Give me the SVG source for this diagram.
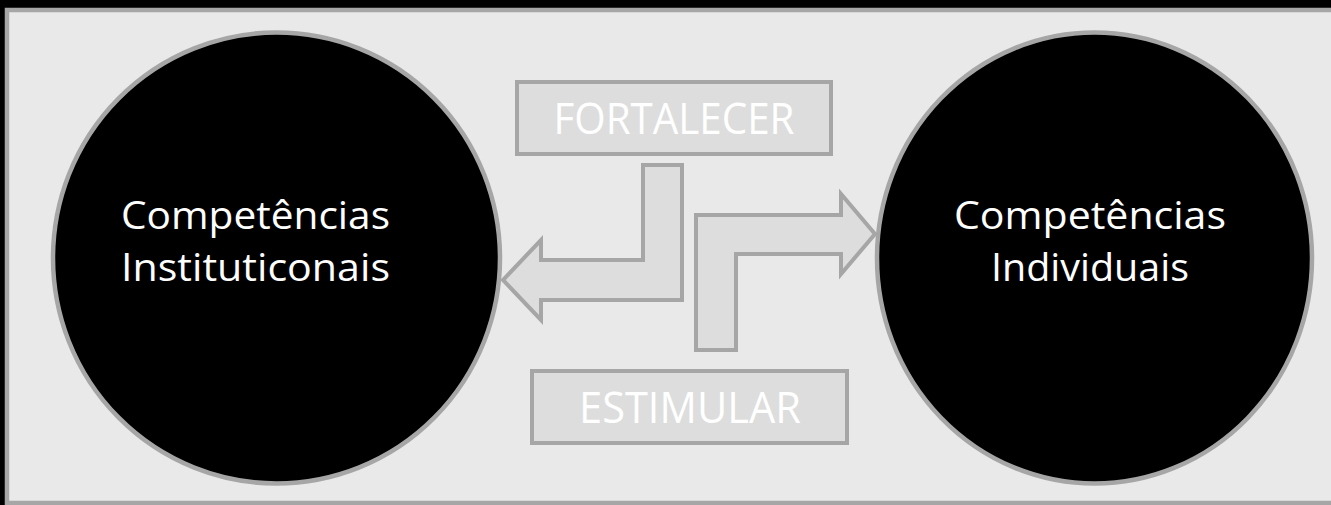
<svg xmlns="http://www.w3.org/2000/svg" width="1331" height="505" viewBox="0 0 1331 505">
<style>
.circ{fill:#000;stroke:#a6a6a6;stroke-width:4.5}
.box{fill:#dddddd;stroke:#a6a6a6;stroke-width:4}
.arr{fill:#dddddd;stroke:#a6a6a6;stroke-width:4;stroke-linejoin:miter}
.lbl{font-family:"Open Sans","Liberation Sans",sans-serif;fill:#ffffff;text-anchor:middle}
.ct{font-size:39px}
.bt{font-size:43px}
</style>
<rect width="1331" height="505" fill="#000"/>
<rect x="7" y="10" width="1340" height="493" fill="#e9e9e9" stroke="#a6a6a6" stroke-width="4.5"/>
<g id="node-institucionais">
<ellipse class="circ" cx="276.5" cy="258" rx="223.5" ry="225.5"/>
<text class="lbl ct" x="255.5" y="229" textLength="269" lengthAdjust="spacingAndGlyphs">Competências</text>
<text class="lbl ct" x="255.5" y="281" textLength="269" lengthAdjust="spacingAndGlyphs">Instituticonais</text>
</g>
<g id="node-individuais">
<ellipse class="circ" cx="1094.5" cy="258" rx="217.5" ry="225.5"/>
<text class="lbl ct" x="1090" y="229" textLength="272" lengthAdjust="spacingAndGlyphs">Competências</text>
<text class="lbl ct" x="1090" y="281" textLength="198" lengthAdjust="spacingAndGlyphs">Individuais</text>
</g>
<g id="node-fortalecer">
<rect class="box" x="517" y="82" width="314" height="72"/>
<text class="lbl bt" x="674" y="134" textLength="241" lengthAdjust="spacingAndGlyphs">FORTALECER</text>
</g>
<g id="node-estimular">
<rect class="box" x="532" y="371" width="315" height="72"/>
<text class="lbl bt" x="690" y="423" textLength="222" lengthAdjust="spacingAndGlyphs">ESTIMULAR</text>
</g>
<g id="connectors">
<polygon class="arr" points="643,165 682,165 682,300 541,300 541,320 503,280 541,240 541,260 643,260"/>
<polygon class="arr" points="696,350 696,215 841,215 841,194 875,234 841,274 841,254 736,254 736,350"/>
</g>
</svg>
